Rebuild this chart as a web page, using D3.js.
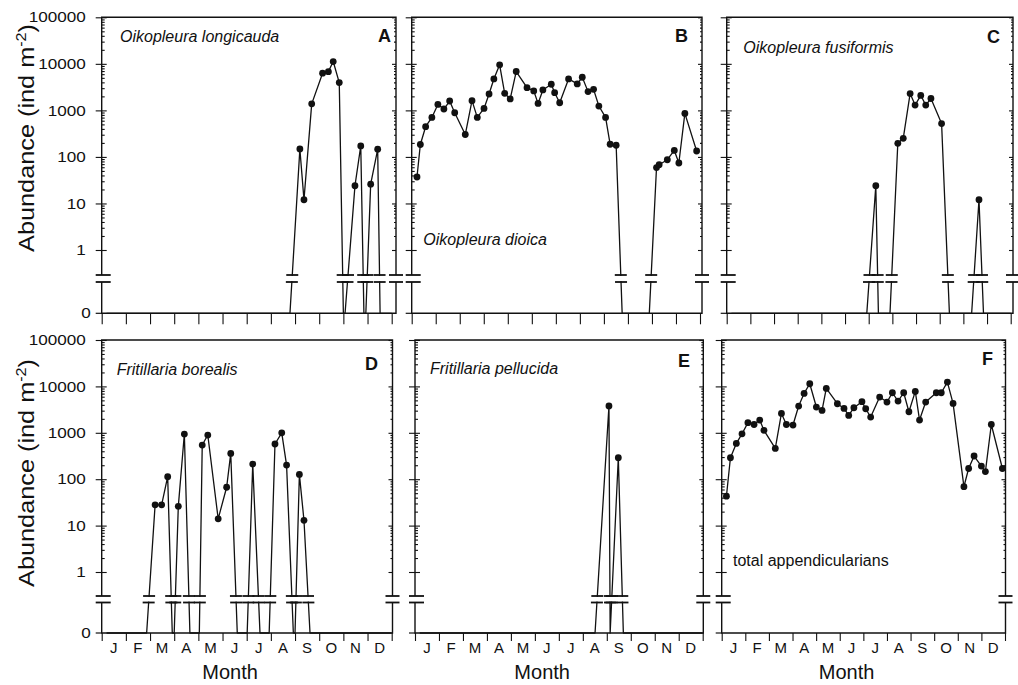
<!DOCTYPE html>
<html>
<head>
<meta charset="utf-8">
<script src="https://cdn.jsdelivr.net/npm/d3@7"></script>
<style>
  body { margin: 0; background: #fff; }
  svg { display: block; font-family: "Liberation Sans", Arial, sans-serif; }
</style>
</head>
<body>
<svg id="chart" width="1018" height="685"></svg>
<script>
// dates are in months from 1 January (0 = start of Jan, 12 = end of Dec), values in ind m-2, 0 = none found
const monthLabels = ["J", "F", "M", "A", "M", "J", "J", "A", "S", "O", "N", "D"];
const yTickValues = [1, 10, 100, 1000, 10000, 100000];

const monthsA = [0.2, 7.79, 8.20, 8.37, 8.69, 9.14, 9.38, 9.58, 9.83, 10.0, 10.07, 10.48, 10.72, 10.85, 10.93, 11.13, 11.42, 11.52, 12.0];
const valuesA = [0, 0, 148, 12, 1380, 6300, 6800, 11200, 3960, 0, 0, 24, 172, 0, 0, 26, 146, 0, 0];

const monthsB = [0.22, 0.36, 0.58, 0.84, 1.09, 1.34, 1.58, 1.79, 2.23, 2.51, 2.73, 3.01, 3.22, 3.42, 3.66, 3.87, 4.10, 4.35, 4.80, 5.08,
  5.26, 5.46, 5.81, 5.95, 6.16, 6.53, 6.89, 7.10, 7.34, 7.57, 7.79, 8.07, 8.26, 8.51, 8.76, 9.89, 10.19, 10.30, 10.64, 10.93,
  11.12, 11.37, 11.86];
const valuesB = [37, 185, 446, 706, 1340, 1070, 1590, 890, 303, 1620, 706, 1100, 2250, 4740, 9520, 2320, 1760, 6840, 3080, 2620,
  1410, 2750, 3640, 2400, 1460, 4740, 3700, 5150, 2530, 2830, 1240, 706, 187, 178, 0, 0, 59, 68, 87, 138,
  74, 860, 134];

const monthsC = [0.2, 5.92, 6.30, 6.41, 6.90, 7.23, 7.46, 7.75, 7.96, 8.20, 8.41, 8.63, 9.08, 9.41, 10.35, 10.66, 10.85, 12.0];
const valuesC = [0, 0, 24, 0, 0, 196, 251, 2300, 1300, 2100, 1300, 1800, 520, 0, 0, 12, 0, 0];

const monthsD = [0.2, 1.86, 2.21, 2.48, 2.73, 2.92, 3.00, 3.17, 3.42, 3.65, 4.04, 4.16, 4.39, 4.82, 5.17, 5.34, 5.61, 6.02, 6.25, 6.55,
  6.93, 7.17, 7.45, 7.65, 7.93, 8.00, 8.18, 8.37, 8.62, 12.0];
const valuesD = [0, 0, 28, 28, 113, 0, 0, 26, 940, 0, 0, 545, 895, 14, 67, 360, 0, 0, 212, 0,
  0, 574, 1000, 202, 0, 0, 127, 13, 0, 0];

const monthsE = [0.2, 7.51, 8.09, 8.14, 8.48, 8.69, 12.0];
const valuesE = [0, 0, 3780, 0, 290, 0, 0];

const monthsF = [0.20, 0.37, 0.62, 0.86, 1.11, 1.37, 1.61, 1.79, 2.27, 2.53, 2.74, 3.02, 3.26, 3.49, 3.73, 4.01, 4.25, 4.43, 4.90, 5.18,
  5.38, 5.60, 5.94, 6.10, 6.31, 6.69, 7.00, 7.23, 7.47, 7.71, 7.93, 8.20, 8.38, 8.64, 9.09, 9.30, 9.56, 9.80, 10.26, 10.46,
  10.69, 11.00, 11.17, 11.42, 11.89];
const valuesF = [43, 290, 590, 950, 1650, 1510, 1880, 1130, 460, 2620, 1510, 1470, 3770, 7070, 11400, 3590, 3040, 9050, 4230, 3350,
  2370, 3470, 4680, 3300, 2180, 5890, 4600, 7300, 4830, 7300, 2840, 7800, 1880, 4600, 7300, 7300, 12400, 4300, 69, 170,
  316, 192, 146, 1510, 170];

// two rows of panels: where the log part, the axis break and the zero line sit
const rows = [
  { top: 17.3, one: 250, brHi: 275, brLo: 282, zero: 313.3, tick: 11 },
  { top: 340, one: 572, brHi: 596, brLo: 602.5, zero: 633, tick: 8 }
];

const panels = [
  { key: "A", name: "Oikopleura longicauda", months: monthsA, values: valuesA, row: 0, left: 101.7, right: 391.7, frame: 396,
    lx: 391, ly: 41.7, nx: 120, ny: 42.3, italic: true, yLabels: true },
  { key: "B", name: "Oikopleura dioica", months: monthsB, values: valuesB, row: 0, left: 411.7, right: 700, frame: 702,
    lx: 688, ly: 41.7, nx: 423.3, ny: 245, italic: true },
  { key: "C", name: "Oikopleura fusiformis", months: monthsC, values: valuesC, row: 0, left: 726.7, right: 1010.7, frame: 1013,
    lx: 1000, ly: 43.3, nx: 743.3, ny: 53.3, italic: true },
  { key: "D", name: "Fritillaria borealis", months: monthsD, values: valuesD, row: 1, left: 101.7, right: 391.7, frame: 392.5,
    lx: 378, ly: 370, nx: 116.7, ny: 374.5, italic: true, yLabels: true, xLabels: true },
  { key: "E", name: "Fritillaria pellucida", months: monthsE, values: valuesE, row: 1, left: 415, right: 702.7, frame: 703.3,
    lx: 690, ly: 366.7, nx: 430, ny: 374.3, italic: true, xLabels: true },
  { key: "F", name: "total appendicularians", months: monthsF, values: valuesF, row: 1, left: 721.7, right: 1005, frame: 1005.5,
    lx: 993, ly: 365, nx: 733, ny: 565.7, italic: false, xLabels: true }
];

const ink = "#111";
const svg = d3.select("#chart");

panels.forEach(p => {
  const r = rows[p.row];
  const x = d3.scaleLinear().domain([0, 12]).range([p.left, p.right]);
  const y = d3.scaleLog().domain([1, 100000]).range([r.one, r.top]);
  const yv = v => v > 0 ? y(v) : r.zero;
  const minor = y.ticks().filter(t => !yTickValues.includes(t));
  const pts = p.months.map((m, i) => ({ m: m, v: p.values[i] }));

  const g = svg.append("g");

  // frame, split at the axis break
  g.append("path")
    .attr("d", `M${p.left},${r.brHi}V${r.top}H${p.frame}V${r.brHi}M${p.left},${r.brLo}V${r.zero}H${p.frame}V${r.brLo}`)
    .attr("fill", "none").attr("stroke", ink).attr("stroke-width", 1.4);

  // left axis: outward major ticks (with labels on A and D), inward major and minor ticks
  const outer = g.append("g")
    .attr("transform", `translate(${p.left},0)`)
    .call(d3.axisLeft(y).tickValues(yTickValues).tickSize(6).tickPadding(7.5)
      .tickFormat(p.yLabels ? d3.format("d") : ""));
  outer.select(".domain").remove();
  outer.selectAll("text")
    .attr("transform", "scale(1.18,1)")
    .style("font-size", "14.5px").style("font-family", "'Liberation Sans', Arial, sans-serif").attr("fill", ink);

  g.append("g").attr("transform", `translate(${p.left},0)`)
    .call(d3.axisRight(y).tickValues(yTickValues).tickSize(5).tickFormat(""))
    .call(a => a.select(".domain").remove());
  g.append("g").attr("transform", `translate(${p.left},0)`)
    .call(d3.axisRight(y).tickValues(minor).tickSize(3).tickFormat(""))
    .call(a => a.select(".domain").remove());

  // right border ticks, pointing inward
  g.append("g").attr("transform", `translate(${p.frame},0)`)
    .call(d3.axisLeft(y).tickValues(yTickValues).tickSize(4).tickFormat(""))
    .call(a => a.select(".domain").remove());
  g.append("g").attr("transform", `translate(${p.frame},0)`)
    .call(d3.axisLeft(y).tickValues(minor).tickSize(2).tickFormat(""))
    .call(a => a.select(".domain").remove());

  // zero tick
  g.append("line")
    .attr("x1", p.left - 6).attr("x2", p.left).attr("y1", r.zero).attr("y2", r.zero)
    .attr("stroke", ink).attr("stroke-width", 1.2);
  if (p.yLabels) {
    g.append("text")
      .attr("transform", `translate(${p.left - 11},${r.zero + 5}) scale(1.18,1)`)
      .attr("text-anchor", "end").style("font-size", "14.5px").attr("fill", ink)
      .text("0");
  }

  // month ticks along the zero line
  g.append("g").attr("transform", `translate(0,${r.zero})`)
    .call(d3.axisBottom(x).tickValues(d3.range(0, 13)).tickSize(r.tick).tickFormat(""))
    .call(a => a.select(".domain").remove());

  g.selectAll(".tick line").attr("stroke", ink).attr("stroke-width", 1.1);

  if (p.xLabels) {
    g.selectAll(".mlab")
      .data(monthLabels)
      .join("text")
      .attr("class", "mlab")
      .attr("x", (d, i) => x(i + 0.5))
      .attr("y", 653)
      .attr("text-anchor", "middle")
      .style("font-size", "15px")
      .attr("fill", ink)
      .text(d => d);
    g.append("text")
      .attr("x", (p.left + p.frame) / 2 - 17)
      .attr("y", 679)
      .attr("text-anchor", "middle")
      .style("font-size", "20px")
      .attr("fill", ink)
      .text("Month");
  }

  // the series
  const line = d3.line().x(d => x(d.m)).y(d => yv(d.v));
  g.append("path")
    .datum(pts)
    .attr("d", line)
    .attr("fill", "none")
    .attr("stroke", ink)
    .attr("stroke-width", 1.3)
    .attr("stroke-linejoin", "round");

  // clear the break band, then draw the "=" marks on the axes and wherever a line crosses
  g.append("rect")
    .attr("x", p.left - 1).attr("y", r.brHi + 0.9)
    .attr("width", p.frame - p.left + 2).attr("height", r.brLo - r.brHi - 1.8)
    .attr("fill", "#fff");

  const marks = [];
  [r.brHi, r.brLo].forEach(yb => {
    marks.push([p.left - 6, p.left + 9, yb]);
    marks.push([p.frame - 7, p.frame + 7, yb]);
    for (let i = 0; i < pts.length - 1; i++) {
      const x1 = x(pts[i].m), y1 = yv(pts[i].v), x2 = x(pts[i + 1].m), y2 = yv(pts[i + 1].v);
      if ((y1 - yb) * (y2 - yb) < 0) {
        const xc = x1 + (yb - y1) / (y2 - y1) * (x2 - x1);
        marks.push([xc - 6, xc + 6, yb]);
      }
    }
  });
  g.selectAll(".brk")
    .data(marks)
    .join("line")
    .attr("class", "brk")
    .attr("x1", d => d[0]).attr("x2", d => d[1])
    .attr("y1", d => d[2]).attr("y2", d => d[2])
    .attr("stroke", ink).attr("stroke-width", 1.8);

  g.selectAll(".dot")
    .data(pts.filter(d => d.v > 0))
    .join("circle")
    .attr("class", "dot")
    .attr("cx", d => x(d.m))
    .attr("cy", d => yv(d.v))
    .attr("r", 3.4)
    .attr("fill", ink);

  // panel letter and species name
  g.append("text")
    .attr("x", p.lx).attr("y", p.ly)
    .attr("text-anchor", "end")
    .style("font-size", "18px").style("font-weight", "bold")
    .attr("fill", ink)
    .text(p.key);
  g.append("text")
    .attr("x", p.nx).attr("y", p.ny)
    .style("font-size", "16px")
    .style("font-style", p.italic ? "italic" : "normal")
    .attr("fill", ink)
    .text(p.name);

  if (p.yLabels) {
    const cy = p.row === 0 ? 138 : 473;
    const t = g.append("text")
      .attr("transform", `translate(33.5,${cy}) rotate(-90) scale(1.15,1)`)
      .attr("text-anchor", "middle")
      .style("font-size", "22px")
      .attr("fill", ink);
    t.append("tspan").text("Abundance (ind m");
    t.append("tspan").attr("dy", -8).style("font-size", "14px").text("-2");
    t.append("tspan").attr("dy", 8).text(")");
  }
});
</script>
</body>
</html>
